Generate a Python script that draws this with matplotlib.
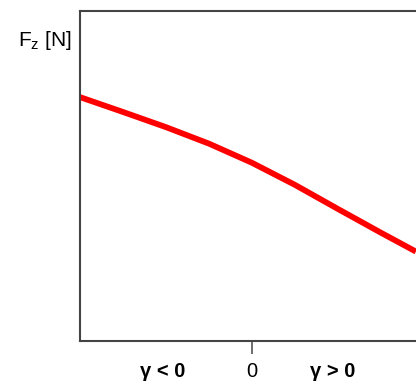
import matplotlib.pyplot as plt

# curve (x: camber, 0 at the tick; y: normalised Fz)
gamma = [-1.0, -0.75, -0.5, -0.25, 0.0, 0.25, 0.5, 0.75, 0.953]
fz = [0.739, 0.694, 0.648, 0.598, 0.540, 0.473, 0.400, 0.328, 0.271]

tick_pos = [0.0]
tick_labels = ["0"]
side_pos = [-0.52, 0.47]
side_labels = ["γ < 0", "γ > 0"]

plt.rcParams["font.family"] = ["Liberation Sans", "DejaVu Sans"]

fig = plt.figure(figsize=(4.16, 3.85), dpi=100)
ax = fig.add_axes([80 / 416, 44 / 385, 344 / 416, 330 / 385])

ax.plot(gamma, fz, color="#ff0000", lw=4.2, solid_capstyle="butt",
        solid_joinstyle="round")

ax.set_xlim(-1, 1)
ax.set_ylim(0, 1)
ax.set_yticks([])

ax.set_xticks(tick_pos, labels=tick_labels)
ax.set_xticks(side_pos, labels=side_labels, minor=True)
ax.tick_params(axis="x", which="major", length=9, width=1.2, color="#555555",
               pad=6, labelsize=14.5)
ax.tick_params(axis="x", which="minor", length=0, pad=15, labelsize=14.5)
for lab in ax.get_xticklabels(minor=True):
    lab.set_fontweight("bold")

for side in ["left", "bottom", "top"]:
    ax.spines[side].set_color("#444444")
    ax.spines[side].set_linewidth(1.5)
ax.spines["right"].set_visible(False)

fig.text(72 / 416, 1 - 41 / 385, r"F$_\mathregular{z}$ [N]", ha="right", va="center",
         fontsize=15)

fig.savefig("out.png", dpi=100)
